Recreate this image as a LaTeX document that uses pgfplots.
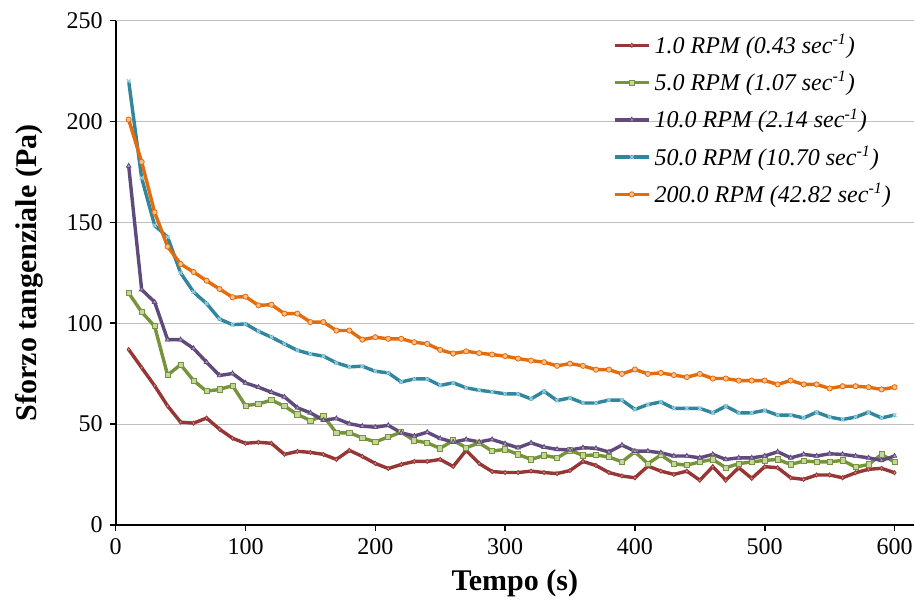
\documentclass[border=0pt]{standalone}
\usepackage{fontspec}
\setmainfont{Liberation Serif}
\usepackage{pgfplots}
\usepackage{pgfplotstable}
\pgfplotsset{compat=1.18}
\usetikzlibrary{calc}

\definecolor{cR}{RGB}{150,55,53}
\definecolor{cG}{RGB}{119,147,60}
\definecolor{cP}{RGB}{96,74,123}
\definecolor{cT}{RGB}{49,133,156}
\definecolor{cO}{RGB}{228,108,10}
\definecolor{fR}{RGB}{217,150,148}
\definecolor{fG}{RGB}{195,214,155}
\definecolor{fP}{RGB}{179,162,199}
\definecolor{fT}{RGB}{147,205,221}
\definecolor{fO}{RGB}{250,192,144}

% tempo (s), sforzo (Pa) per velocita'
\pgfplotstableread{
x   R     G     P     T     O
10  87    115   178   220   201
20  78    105.6 116.7 172   180
30  69    98.5  110.5 148.5 155
40  59    74.3  91.9  142.7 138
50  51    79.5  91.9  125   129.4
60  50.5  71.6  87.5  115.5 125.4
70  53    66.3  80.7  109.8 121.1
80  47.5  67.2  74.1  102.1 117
90  43    69.1  75.1  99.3  112.9
100 40.5  59.2  70.4  99.7  113.2
110 41    60    68.3  96    108.9
120 40.5  61.9  65.8  93.1  109.2
130 35    58.9  63.5  89.8  104.8
140 36.5  54.8  58.1  86.6  104.8
150 36    51.8  55.6  84.8  100.6
160 35    54    52    83.7  100.6
170 32.5  45.7  52.8  80.4  96.4
180 37    45.7  50.2  78.4  96.4
190 34    43.2  49    78.7  91.9
200 30.5  41.2  48.5  76.2  93.1
210 28    43.6  49.4  75.4  92.3
220 30    46    45.7  70.9  92.3
230 31.5  41.9  44.1  72.4  90.6
240 31.5  40.7  46    72.4  89.8
250 32.5  38    42.9  69.2  86.8
260 29    41.9  41.1  70.5  85
270 37    38.3  42.4  68    86.1
280 30.5  40.7  41.2  66.8  85.2
290 26.5  36.6  42.4  66    84.5
300 26    37.5  40.3  65    83.7
310 26    35    38.3  65    82.5
320 26.7  32.5  40.7  62.5  81.5
330 26    34.5  38.6  66.3  80.7
340 25.5  33.3  37.5  61.7  78.9
350 27    37    37.2  63    80
360 31.5  34.5  38.3  60.5  78.9
370 29.5  34.7  38    60.5  77
380 26    33.7  36.2  61.9  77
390 24.3  31.3  39.6  61.9  74.9
400 23.4  36.3  36.6  57.3  77.1
410 29.2  30.4  36.6  59.7  74.9
420 26.7  34.7  35.8  61    75.4
430 25.1  30.4  34.2  57.8  74.3
440 26.7  29.6  34.2  57.8  73.3
450 22.2  31.3  33.3  57.8  74.9
460 28.9  32.5  35    55.6  72.6
470 22.2  28.4  32.5  58.9  72.6
480 28.4  30.4  33.3  55.6  71.6
490 23.1  31.3  33.3  55.6  71.6
500 28.9  32    34.2  56.8  71.6
510 28.4  32.5  36.3  54.5  69.7
520 23.4  30    33.3  54.5  71.6
530 22.6  31.7  35    53.1  69.7
540 24.8  31.3  34.2  55.9  69.7
550 24.8  31.3  35.3  53.5  67.7
560 23.4  32    35    52.3  68.8
570 25.9  28.7  34.2  53.5  68.8
580 27.6  30    33.3  55.9  68.3
590 28.1  35    32    53.1  67.2
600 25.9  31.2  34.2  54.5  68.3
}\dati

\begin{document}
\begin{tikzpicture}
\begin{axis}[
   name=ax,
   scale only axis,
   width=399.15pt,
   height=252.15pt,
   xmin=0, xmax=615,
   ymin=0, ymax=250,
   xtick={0,100,...,600},
   ytick={0,50,...,250},
   axis lines=left,
   axis line style={-, black, line width=1pt},
   tick align=outside,
   major tick length=3pt,
   tick style={black, line width=0.8pt},
   ymajorgrids=true,
   grid style={draw=black!25, line width=0.6pt},
   /pgf/number format/assume math mode=true,
   ticklabel style={font=\fontsize{12}{14}\selectfont},
   xlabel={\textbf{Tempo (s)}},
   ylabel={\textbf{Sforzo tangenziale (Pa)}},
   xlabel style={font=\fontsize{15}{18}\selectfont, at={(axis description cs:0.5,-0.115)}, anchor=center},
   ylabel style={font=\fontsize{15}{18}\selectfont, at={(axis description cs:-0.108,0.5)}, anchor=center},
   legend style={draw=none, fill=none, at={(axis description cs:0.615,0.99)}, anchor=north west,
      font=\itshape\fontsize{12}{14}\selectfont, row sep=3.5pt},
   legend cell align=left,
   every axis plot/.append style={line width=1.7pt, mark size=1.3pt},
]
\addplot[cR, mark=diamond*, mark options={fill=fR, line width=0.4pt, scale=0.8}] table[x=x, y=R] {\dati};
\addplot[cG, mark=square*, mark options={fill=fG, line width=0.4pt}] table[x=x, y=G] {\dati};
\addplot[cP, mark=triangle*, mark options={fill=fP, line width=0.4pt}] table[x=x, y=P] {\dati};
\addplot[cT, mark=x, mark options={draw=fT, line width=0.6pt}] table[x=x, y=T] {\dati};
\addplot[cO, mark=*, mark options={fill=fO, line width=0.4pt}] table[x=x, y=O] {\dati};
\legend{1.0 RPM (0.43 sec\textsuperscript{-1}),
        5.0 RPM (1.07 sec\textsuperscript{-1}),
        10.0 RPM (2.14 sec\textsuperscript{-1}),
        50.0 RPM (10.70 sec\textsuperscript{-1}),
        200.0 RPM (42.82 sec\textsuperscript{-1})}
\end{axis}
\pgfresetboundingbox
\path ($(ax.south west)+(-57.85pt,-40pt)$) rectangle ($(ax.north east)+(0pt,10.35pt)$);
\end{tikzpicture}
\end{document}
